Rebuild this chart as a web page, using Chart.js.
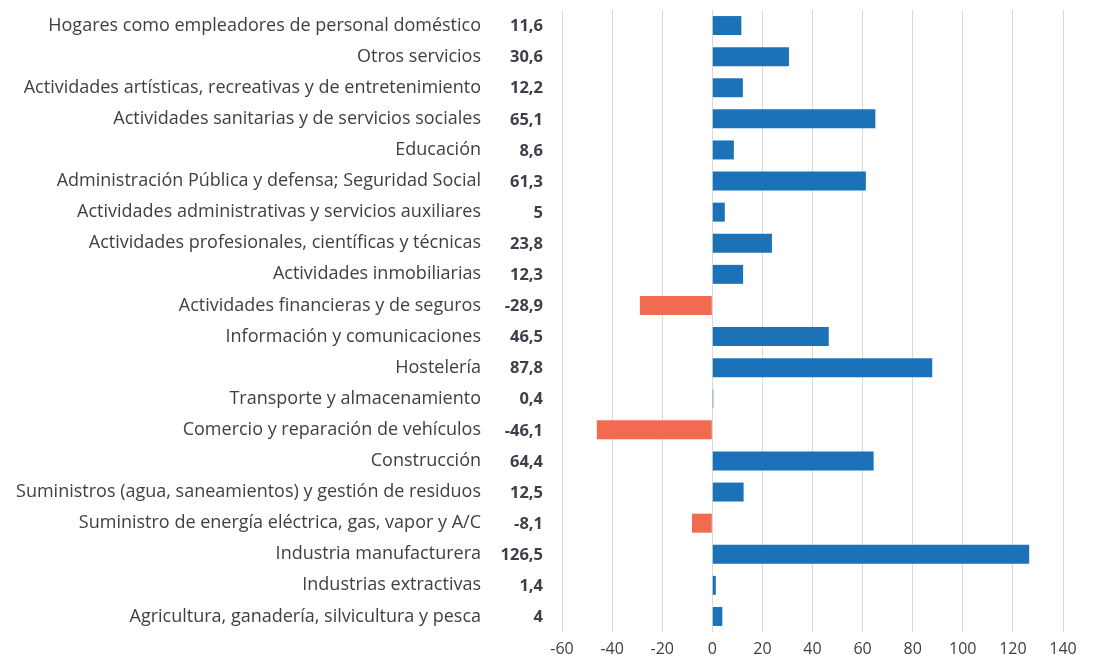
<!DOCTYPE html>
<html><head><meta charset="utf-8">
<script src="https://cdn.jsdelivr.net/npm/chart.js@4/dist/chart.umd.min.js"></script>
<style>html,body{margin:0;padding:0;background:#fff}#wrap{width:1093px;height:655px}</style>
</head><body><div id="wrap"><canvas id="c" width="1093" height="655"></canvas></div>
<script>
const categories = [
 "Hogares como empleadores de personal doméstico",
 "Otros servicios",
 "Actividades artísticas, recreativas y de entretenimiento",
 "Actividades sanitarias y de servicios sociales",
 "Educación",
 "Administración Pública y defensa; Seguridad Social",
 "Actividades administrativas y servicios auxiliares",
 "Actividades profesionales, científicas y técnicas",
 "Actividades inmobiliarias",
 "Actividades financieras y de seguros",
 "Información y comunicaciones",
 "Hostelería",
 "Transporte y almacenamiento",
 "Comercio y reparación de vehículos",
 "Construcción",
 "Suministros (agua, saneamientos) y gestión de residuos",
 "Suministro de energía eléctrica, gas, vapor y A/C",
 "Industria manufacturera",
 "Industrias extractivas",
 "Agricultura, ganadería, silvicultura y pesca"
];
const values = [11.6, 30.6, 12.2, 65.1, 8.6, 61.3, 5, 23.8, 12.3, -28.9, 46.5, 87.8, 0.4, -46.1, 64.4, 12.5, -8.1, 126.5, 1.4, 4];
const xTicks = [-60, -40, -20, 0, 20, 40, 60, 80, 100, 120, 140];

const BLUE = "#1b72b9", RED = "#f26a4f";

const valueLabels = {
  id: "valueLabels",
  afterDatasetsDraw(chart) {
    const ctx = chart.ctx, y = chart.scales.y, area = chart.chartArea;
    ctx.save();
    ctx.font = "bold 16.5px 'Open Sans'";
    ctx.fillStyle = "#3d4049";
    ctx.textAlign = "right";
    ctx.textBaseline = "middle";
    values.forEach((v, i) => {
      ctx.fillText(String(v).replace(".", ","), area.left - 19, y.getPixelForValue(i) + 1);
    });
    ctx.restore();
  }
};

new Chart(document.getElementById("c"), {
  type: "bar",
  data: {
    labels: categories,
    datasets: [{
      data: values,
      backgroundColor: values.map(v => v < 0 ? RED : BLUE),
      categoryPercentage: 0.61,
      barPercentage: 1
    }]
  },
  options: {
    indexAxis: "y",
    responsive: false,
    animation: false,
    layout: { padding: { top: 0, right: 30, bottom: 0, left: 0 } },
    plugins: { legend: { display: false }, tooltip: { enabled: false } },
    scales: {
      x: {
        min: -60, max: 140,
        afterBuildTicks(s) { s.ticks = xTicks.map(v => ({ value: v })); },
        afterFit(s) { s.height = 23; },
        grid: { color: "#d9d9d9", lineWidth: 1, drawTicks: false },
        border: { display: false },
        ticks: { color: "#404040", font: { size: 16, family: "'Open Sans'" }, padding: 8, maxRotation: 0 }
      },
      y: {
        afterFit(s) { s.width = 562; s.paddingTop = 10; s.paddingBottom = 0; },
        grid: { display: false, drawTicks: true, tickLength: 81, color: "rgba(0,0,0,0)" },
        border: { display: false },
        ticks: { color: "#404040", font: { size: 18, family: "'Open Sans'" }, padding: 0, autoSkip: false }
      }
    }
  },
  plugins: [valueLabels]
});
</script></body></html>
